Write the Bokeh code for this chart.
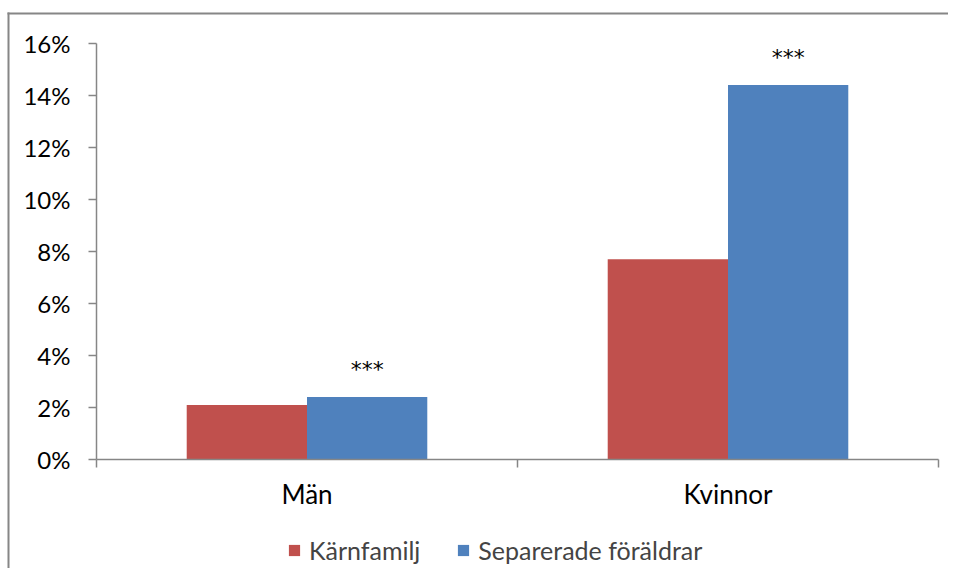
from bokeh.plotting import figure
from bokeh.models import (ColumnDataSource, FixedTicker, PrintfTickFormatter, Range1d,
                          Legend, LegendItem, BoxAnnotation)
from bokeh.core.properties import value
from bokeh.embed import file_html
from bokeh.resources import INLINE
import numpy as np

categories = ["Män", "Kvinnor"]
karnfamilj = [2.1, 7.7]
separerade = [2.4, 14.4]
sig_labels = ["***", "***"]
y_ticks = [0, 2, 4, 6, 8, 10, 12, 14, 16]
series_names = ["Kärnfamilj", "Separerade föräldrar"]

RED = "#C0504D"
BLUE = "#4F81BD"
GREY = "#868686"
FONT = "Lato"

# layout (canvas pixels)
W, H = 948, 568
X0, XU = 96, 421      # x of first category edge, width of one category
Y0, YU = 459, 26      # y of 0 %, pixels per percent unit
BORDER_X, BORDER_Y, BORDER_W = 7, 12, 2

idx = np.arange(len(categories))
centers = idx + 0.5
bw = 1 / 3.5
src = ColumnDataSource(dict(
    xr=centers - bw / 2, xb=centers + bw / 2,
    k=karnfamilj, s=separerade, lab=sig_labels))

x_start, x_end = -X0 / XU, (W - X0) / XU
y_start, y_end = (Y0 - H) / YU, Y0 / YU
p = figure(width=W, height=H, output_backend="svg", toolbar_location=None,
           x_range=Range1d(x_start, x_end), y_range=Range1d(y_start, y_end),
           min_border=0)
p.outline_line_color = None
p.grid.visible = False
p.background_fill_color = "white"
p.border_fill_color = "white"

r1 = p.vbar(x="xr", top="k", width=bw, source=src, fill_color=RED, line_color=None)
r2 = p.vbar(x="xb", top="s", width=bw, source=src, fill_color=BLUE, line_color=None)
p.text(x="xb", y="s", text="lab", source=src, text_align="center", text_baseline="middle",
       y_offset=-28, text_font=value("DejaVu Sans"), text_font_size=value("22px"),
       text_color="black")

# y axis
ya = p.yaxis[0]
ya.fixed_location = 0
ya.bounds = (0, y_ticks[-1])
ya.ticker = FixedTicker(ticks=y_ticks)
ya.formatter = PrintfTickFormatter(format="%d%%")
ya.axis_line_color = GREY
ya.axis_line_width = 1.5
ya.major_tick_line_color = GREY
ya.major_tick_line_width = 1.5
ya.major_tick_in = 0
ya.major_tick_out = 8
ya.minor_tick_line_color = None
ya.major_label_standoff = 18
ya.major_label_text_font = FONT
ya.major_label_text_font_size = "24px"
ya.major_label_text_color = "black"

# x axis
xa = p.xaxis[0]
xa.fixed_location = 0
xa.bounds = (0, len(categories))
xa.ticker = FixedTicker(ticks=list(centers), minor_ticks=list(range(len(categories) + 1)))
xa.major_label_overrides = {float(c): n for c, n in zip(centers, categories)}
xa.axis_line_color = GREY
xa.axis_line_width = 1.5
xa.major_tick_line_color = None
xa.major_tick_in = 0
xa.major_tick_out = 0
xa.minor_tick_line_color = GREY
xa.minor_tick_line_width = 1.5
xa.minor_tick_in = 0
xa.minor_tick_out = 8
xa.major_label_standoff = 10
xa.major_label_text_font = FONT
xa.major_label_text_font_size = "26px"
xa.major_label_text_color = "black"

legend = Legend(items=[LegendItem(label=series_names[0], renderers=[r1]),
                       LegendItem(label=series_names[1], renderers=[r2])],
                orientation="horizontal", location=(287, 15 - (580 - H)),
                padding=0, margin=0, spacing=36, label_standoff=8,
                glyph_width=14, glyph_height=14,
                label_text_font=FONT, label_text_font_size="25px",
                border_line_color=None, background_fill_alpha=0)
p.add_layout(legend, "center")

# chart-area border (top and left edges only, as in the cropped original)
bx = (BORDER_X - X0) / XU
by = (Y0 - BORDER_Y) / YU
top_edge = BoxAnnotation(left=bx, right=x_end, top=by, bottom=by - BORDER_W / YU,
                         fill_color=GREY, fill_alpha=1, line_color=None, line_alpha=0)
left_edge = BoxAnnotation(left=bx, right=bx + BORDER_W / XU, top=by, bottom=y_start,
                          fill_color=GREY, fill_alpha=1, line_color=None, line_alpha=0)
p.add_layout(top_edge)
p.add_layout(left_edge)

open("out.html", "w").write(file_html(p, INLINE))
